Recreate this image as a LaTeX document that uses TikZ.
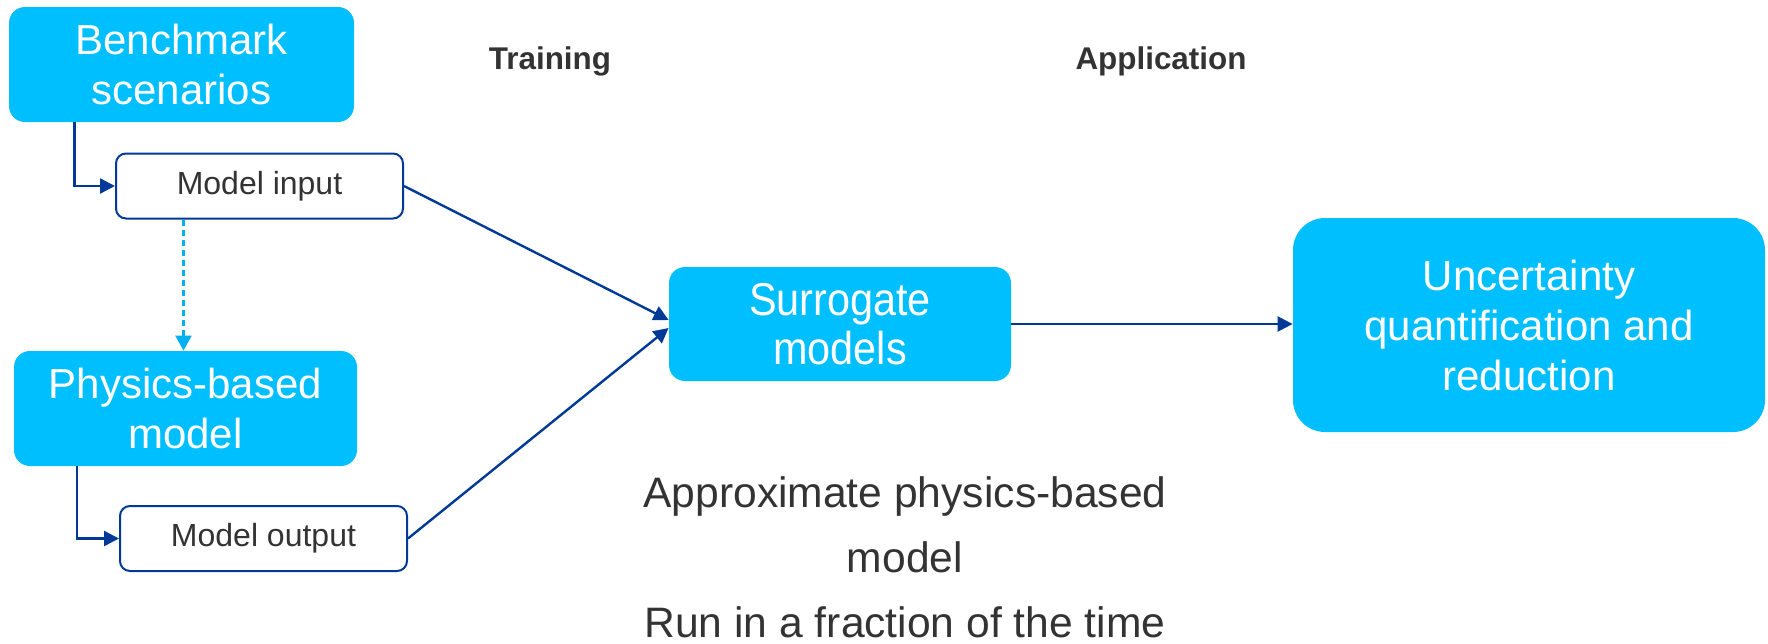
\documentclass[tikz,border=0pt]{standalone}
\usepackage{fontspec}
\setmainfont{Liberation Sans}
\newfontfamily\narrowsans{Liberation Sans}[FakeStretch=0.9]
\usetikzlibrary{arrows.meta, calc}
\definecolor{smcyan}{RGB}{0, 191, 255}
\definecolor{smdash}{RGB}{0, 176, 240}
\definecolor{smblue}{RGB}{0, 58, 150}
\definecolor{smtext}{RGB}{51, 51, 51}

\tikzset{
    bigbox/.style={fill=smcyan, text=white, rounded corners=8pt, align=center,
        font=\fontsize{21}{25}\selectfont, inner sep=0pt},
    smallbox/.style={draw=smblue, line width=1pt, fill=white, text=smtext,
        rounded corners=5pt, minimum width=143.5pt, minimum height=32.5pt,
        font=\fontsize{16}{19}\selectfont, inner sep=0pt},
    phase/.style={text=smtext, font=\fontsize{15.7}{19}\selectfont\bfseries},
    link/.style={draw=smblue, line width=1.2pt, -{Triangle[length=7.5pt, width=7.5pt]}},
    dashlink/.style={draw=smdash, line width=1.2pt, dash pattern=on 3pt off 2pt,
        -{Triangle[length=7.5pt, width=8pt]}}
}

\begin{document}
\begin{tikzpicture}[x=0.5pt, y=-0.5pt]
\useasboundingbox (0,0) rectangle (1768,643);

% === Lado de entrenamiento ===
\node[bigbox, minimum width=172.5pt, minimum height=57.5pt] (bench) at (181.5, 64.5)
    {Benchmark\\scenarios};
\node[smallbox] (inp) at (259.5, 186) {Model input};
\node[bigbox, minimum width=171.5pt, minimum height=57.5pt] (phys) at (185.5, 408.5)
    {Physics-based\\model};
\node[smallbox] (outp) at (263.5, 538.5) {Model output};

% Conexiones de la columna izquierda
\draw[link] ($(bench.south west)!0.19!(bench.south east)$) |- (inp.west);
\draw[link] ($(phys.south west)!0.185!(phys.south east)$) |- (outp.west);
\coordinate (dtop) at ($(inp.south west)!0.237!(inp.south east)$);
\draw[dashlink] (dtop) -- (dtop |- phys.north);

% === Modelo sustituto ===
\node[bigbox, minimum width=171pt, minimum height=57pt,
    font=\fontsize{23}{24.5}\selectfont\narrowsans] (surr) at (840, 324)
    {Surrogate\\models};
\draw[link] (inp.east) -- ([yshift=2pt]surr.west);
\draw[link] (outp.east) -- ([yshift=-2pt]surr.west);

% === Aplicacion ===
\node[bigbox, rounded corners=16pt, minimum width=236pt, minimum height=107pt]
    (unc) at (1529, 325) {Uncertainty\\quantification and\\reduction};
\draw[link] (surr.east) -- (surr.east -| unc.west);

% Etiquetas de fase
\node[phase] (train) at (550, 61) {Training};
\node[phase] (appl) at (1161, 61) {Application};

% Nota
\node[text=smtext, align=center, inner sep=0pt, font=\fontsize{21.3}{32.5}\selectfont]
    (note) at (905, 557) {Approximate physics-based\\model\\Run in a fraction of the time};

\end{tikzpicture}
\end{document}
